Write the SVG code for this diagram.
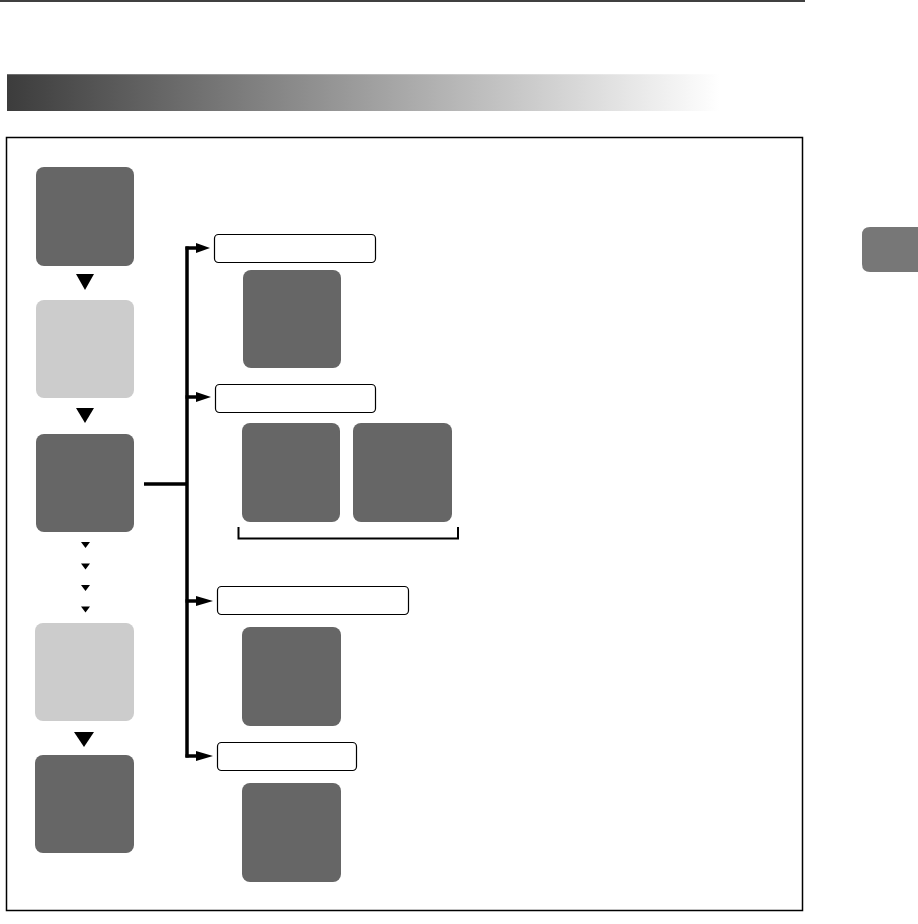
<svg xmlns="http://www.w3.org/2000/svg" width="918" height="924" viewBox="0 0 918 924">
<style>
.dark{fill:#666666}
.light{fill:#cccccc}
.lbl{fill:#ffffff;stroke:#000000;stroke-width:1.2}
.conn{fill:none;stroke:#000000;stroke-width:3.5}
.tri{fill:#000000}
</style>
<defs>
<linearGradient id="bar" x1="0" y1="0" x2="1" y2="0">
<stop offset="0" stop-color="#3c3c3c"/>
<stop offset="1" stop-color="#ffffff"/>
</linearGradient>
<marker id="ah" markerWidth="5" markerHeight="4" refX="0" refY="2" orient="auto" markerUnits="strokeWidth">
<path d="M0,0 L4,2 L0,4 Z" fill="#000"/>
</marker>
</defs>
<rect width="918" height="924" fill="#ffffff"/>
<line x1="0" y1="1" x2="805" y2="1" stroke="#000" stroke-width="1.5"/>
<rect x="7" y="74" width="713" height="37" fill="url(#bar)"/>
<line x1="7" y1="74.5" x2="720" y2="74.5" stroke="#ffffff" stroke-opacity="0.25"/>
<rect x="6.5" y="137.5" width="796" height="773" fill="none" stroke="#000" stroke-width="1.5"/>
<path d="M918,227 L870,227 Q862,227 862,235 L862,264 Q862,272 870,272 L918,272 Z" fill="#777777"/>

<g id="step1"><rect class="dark" x="36" y="167" width="98" height="99" rx="8"/></g>
<g id="step2"><rect class="light" x="36" y="300" width="98" height="98" rx="8"/></g>
<g id="step3"><rect class="dark" x="36" y="434" width="98" height="98" rx="8"/></g>
<g id="step4"><rect class="light" x="35" y="623" width="99" height="98" rx="8"/></g>
<g id="step5"><rect class="dark" x="35" y="755" width="99" height="98" rx="8"/></g>

<g id="label1"><rect class="lbl" x="214.5" y="234.5" width="161" height="28" rx="4"/></g>
<g id="item1"><rect class="dark" x="243" y="270" width="98" height="98" rx="8"/></g>
<g id="label2"><rect class="lbl" x="215.5" y="384.5" width="160" height="28" rx="4"/></g>
<g id="item2a"><rect class="dark" x="242" y="423" width="98" height="99" rx="8"/></g>
<g id="item2b"><rect class="dark" x="353" y="423" width="99" height="99" rx="8"/></g>
<g id="label3"><rect class="lbl" x="217.5" y="586.5" width="191" height="28" rx="4"/></g>
<g id="item3"><rect class="dark" x="242" y="627" width="99" height="99" rx="8"/></g>
<g id="label4"><rect class="lbl" x="217.5" y="742.5" width="139" height="28" rx="4"/></g>
<g id="item4"><rect class="dark" x="242" y="783" width="99" height="99" rx="8"/></g>

<g id="connectors">
<path class="tri" d="M76,274 L94,274 L85,290 Z"/>
<path class="tri" d="M76,408 L94,408 L85,423 Z"/>
<path class="tri" d="M81,542 L90,542 L85.5,548 Z"/>
<path class="tri" d="M81,563.5 L90,563.5 L85.5,569.5 Z"/>
<path class="tri" d="M81,585 L90,585 L85.5,591 Z"/>
<path class="tri" d="M81,606.5 L90,606.5 L85.5,612.5 Z"/>
<path class="tri" d="M74,732 L94,732 L84,747 Z"/>
<line class="conn" x1="144" y1="484" x2="187" y2="484"/>
<path class="conn" d="M187,246.5 L187,757.5"/>
<path class="conn" d="M185.5,248 L197,248"/>
<path class="conn" d="M185.5,397 L197,397"/>
<path class="conn" d="M185.5,601 L197,601"/>
<path class="conn" d="M185.5,756 L197,756"/>
<path class="tri" d="M196,243 L210,248 L196,253 Z"/>
<path class="tri" d="M196,392 L211,397 L196,402 Z"/>
<path class="tri" d="M196,596 L213,601 L196,606 Z"/>
<path class="tri" d="M196,751 L213,756 L196,761 Z"/>
<path d="M238.5,527 L238.5,538.5 L458,538.5 L458,527" fill="none" stroke="#000" stroke-width="2"/>
</g>
</svg>
